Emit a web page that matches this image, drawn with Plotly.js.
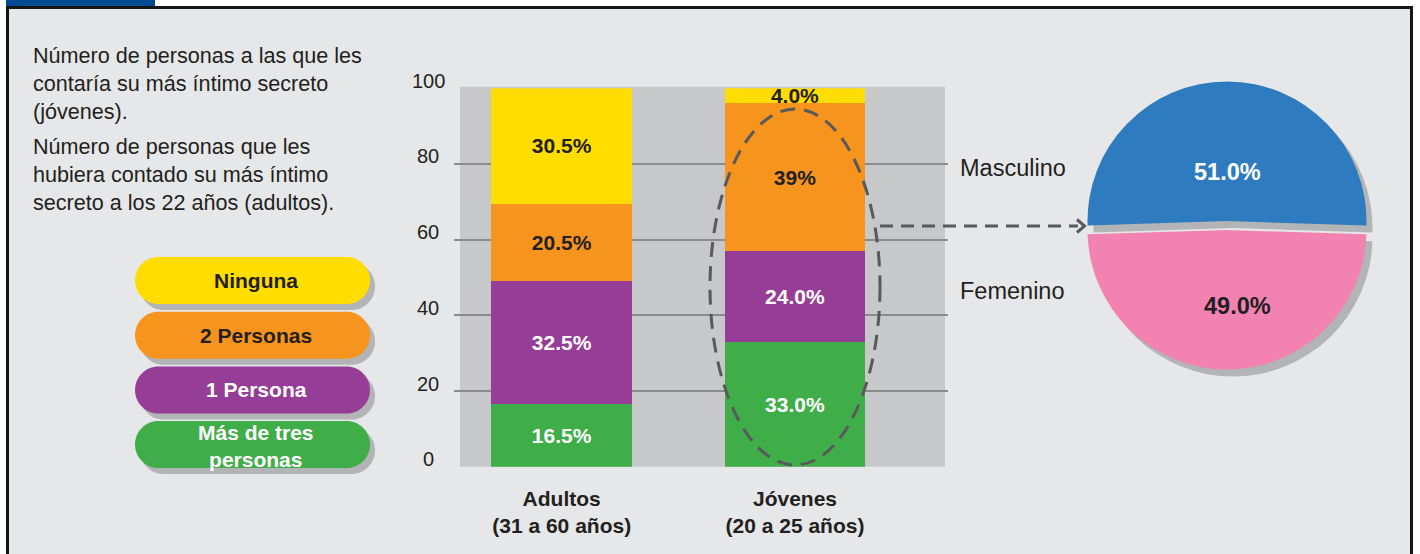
<!DOCTYPE html>
<html><head><meta charset="utf-8">
<script src="https://cdn.plot.ly/plotly-3.0.1.min.js"></script>
<style>html,body{margin:0;padding:0;background:#fff;} #chart{width:1420px;height:554px;}</style>
</head><body><div id="chart"></div>
<script>
// ---------- data ----------
const categories = ['Adultos<br>(31 a 60 años)', 'Jóvenes<br>(20 a 25 años)'];
const seriesNames = ['Más de tres<br>personas', '1 Persona', '2 Personas', 'Ninguna'];
const masDeTres = [16.5, 33.0];
const unaPersona = [32.5, 24.0];
const dosPersonas = [20.5, 39];
const ninguna = [30.5, 4.0];
const masDeTresLabels = ['16.5%', '33.0%'];
const unaPersonaLabels = ['32.5%', '24.0%'];
const dosPersonasLabels = ['20.5%', '39%'];
const ningunaLabels = ['30.5%', '4.0%'];
const yTickValues = [0, 20, 40, 60, 80, 100];
const yTickLabels = ['0', '20', '40', '60', '80', '100'];
const sexLabels = ['Masculino', 'Femenino'];
const sexValues = [51.0, 49.0];
const sexValueLabels = ['51.0%', '49.0%'];
const introTexts = [
  'Número de personas a las que les<br>contaría su más íntimo secreto<br>(jóvenes).',
  'Número de personas que les<br>hubiera contado su más íntimo<br>secreto a los 22 años (adultos).'
];

// ---------- styles ----------
const W = 1420, H = 554;
const px = x => x / W;
const py = y => 1 - y / H;
const FONT = 'Liberation Sans, Arial, Helvetica, sans-serif';
const DARK = '#231f20';
const seriesValues = [masDeTres, unaPersona, dosPersonas, ninguna];
const seriesLabels = [masDeTresLabels, unaPersonaLabels, dosPersonasLabels, ningunaLabels];
const seriesColors = ['#3fae49', '#963d97', '#f7941d', '#ffdd00'];
const seriesTextColors = ['#ffffff', '#ffffff', DARK, DARK];
const xs = categories.map((c, i) => i);

const traces = seriesValues.map((vals, i) => ({
  type: 'bar', x: xs, y: vals, name: seriesNames[i],
  width: 0.604,
  marker: {color: seriesColors[i], line: {width: 0}},
  text: seriesLabels[i], textposition: 'inside', insidetextanchor: 'middle',
  textangle: 0, constraintext: 'none',
  textfont: {family: FONT, size: 21, color: seriesTextColors[i], weight: 700},
  hoverinfo: 'skip', showlegend: false
}));

// pie geometry
const pieCx = 1227, pieCy = 225.5, pieR = 139.5, pull = 0.032;
const half = pieR * (1 + pull);
function pieDomain(dx, dy) {
  return {x: [px(pieCx - half + dx), px(pieCx + half + dx)],
          y: [py(pieCy + half + dy), py(pieCy - half + dy)]};
}
traces.push({
  type: 'pie', labels: sexLabels, values: sexValues, sort: false,
  direction: 'clockwise', rotation: -91.8, pull: [pull, pull],
  domain: pieDomain(6, 7), textinfo: 'none',
  marker: {colors: ['#b3b4b6', '#b3b4b6'], line: {width: 0}},
  hoverinfo: 'skip', showlegend: false
});
traces.push({
  type: 'pie', labels: sexLabels, values: sexValues, sort: false,
  direction: 'clockwise', rotation: -91.8, pull: [pull, pull],
  domain: pieDomain(0, 0), textinfo: 'none',
  marker: {colors: ['#2e7bbf', '#f283b1'], line: {width: 0}},
  hoverinfo: 'skip', showlegend: false
});

// ---------- shapes ----------
const shapes = [
  {type: 'rect', xref: 'paper', yref: 'paper', x0: px(7.5), x1: px(1411.5), y0: py(7.5), y1: py(620),
   fillcolor: '#e6e7e8', line: {color: '#151515', width: 3}, layer: 'below'},
  {type: 'rect', xref: 'paper', yref: 'paper', x0: px(6), x1: px(155), y0: py(6), y1: py(-4),
   fillcolor: '#004a93', line: {width: 0}, layer: 'below'},
  {type: 'rect', xref: 'paper', yref: 'paper', x0: px(460), x1: px(945), y0: py(466.7), y1: py(86.7),
   fillcolor: '#c7c8ca', line: {width: 0}, layer: 'below'}
];
function pillPath(x0, y0, x1, y1) {
  const R = (y1 - y0) / 2, k = 0.5523 * R;
  const P = (x, y) => px(x) + ',' + py(y);
  return 'M' + P(x0 + R, y0) + ' L' + P(x1 - R, y0) +
    ' C' + P(x1 - R + k, y0) + ' ' + P(x1, y0 + R - k) + ' ' + P(x1, y0 + R) +
    ' C' + P(x1, y1 - R + k) + ' ' + P(x1 - R + k, y1) + ' ' + P(x1 - R, y1) +
    ' L' + P(x0 + R, y1) +
    ' C' + P(x0 + R - k, y1) + ' ' + P(x0, y1 - R + k) + ' ' + P(x0, y1 - R) +
    ' C' + P(x0, y0 + R - k) + ' ' + P(x0 + R - k, y0) + ' ' + P(x0 + R, y0) + ' Z';
}
const annotations = [];
const legendOrder = [3, 2, 1, 0];
legendOrder.forEach((s, row) => {
  const top = 257 + row * 54.7, bot = top + 47;
  shapes.push({type: 'path', xref: 'paper', yref: 'paper', path: pillPath(140, top + 6, 375, bot + 6),
    fillcolor: '#b3b4b6', line: {width: 0}, layer: 'below'});
  shapes.push({type: 'path', xref: 'paper', yref: 'paper', path: pillPath(135, top, 370, bot),
    fillcolor: seriesColors[s], line: {width: 0}, layer: 'below'});
  const cy = (top + bot) / 2 + (seriesNames[s].includes('<br>') ? 1 : 0);
  annotations.push({
    xref: 'paper', yref: 'paper', x: px(256), y: py(cy), xanchor: 'center', yanchor: 'middle',
    text: seriesNames[s], showarrow: false,
    font: {family: FONT, size: 21, color: seriesTextColors[s], weight: 700}
  });
});
// dashed ellipse and arrow
shapes.push({type: 'circle', xref: 'paper', yref: 'paper', x0: px(710), x1: px(880), y0: py(465), y1: py(109),
  line: {color: '#58595b', width: 3, dash: '15px,9px'}, layer: 'above'});
shapes.push({type: 'line', xref: 'paper', yref: 'paper', x0: px(880), x1: px(1078), y0: py(226), y1: py(226),
  line: {color: '#58595b', width: 3, dash: '13px,8px'}, layer: 'above'});
shapes.push({type: 'path', xref: 'paper', yref: 'paper',
  path: 'M' + px(1077) + ',' + py(219.5) + ' L' + px(1084.5) + ',' + py(226) + ' L' + px(1077) + ',' + py(232.5),
  line: {color: '#58595b', width: 3}, layer: 'above'});

// y tick labels (centered, sitting on the grid lines)
yTickValues.forEach((v, i) => annotations.push({
  xref: 'paper', yref: 'y', x: px(428), y: v, xanchor: 'center', yanchor: 'middle', yshift: 7.5,
  text: yTickLabels[i], showarrow: false, font: {family: FONT, size: 20, color: DARK}
}));
// intro texts
[83.3, 174.3].forEach((cy, i) => annotations.push({
  xref: 'paper', yref: 'paper', x: px(31), y: py(cy), xanchor: 'left', yanchor: 'middle', align: 'left',
  text: introTexts[i], showarrow: false, font: {family: FONT, size: 21.6, color: DARK}
}));
// pie category labels
[168, 290.5].forEach((cy, i) => annotations.push({
  xref: 'paper', yref: 'paper', x: px(958), y: py(cy), xanchor: 'left', yanchor: 'middle',
  text: sexLabels[i], showarrow: false, font: {family: FONT, size: 23.5, color: DARK}
}));
// pie value labels
const pieTextOffsets = [[0.5, -53.2], [10.5, 80.2]];
const pieTextColors = ['#ffffff', DARK];
sexValueLabels.forEach((t, i) => annotations.push({
  xref: 'paper', yref: 'paper', x: px(pieCx + pieTextOffsets[i][0]), y: py(pieCy + pieTextOffsets[i][1]),
  xanchor: 'center', yanchor: 'middle', text: t, showarrow: false,
  font: {family: FONT, size: 23.5, color: pieTextColors[i], weight: 700}
}));

const layout = {
  width: W, height: H, margin: {l: 0, r: 0, t: 0, b: 0},
  paper_bgcolor: '#ffffff', plot_bgcolor: 'rgba(0,0,0,0)',
  barmode: 'stack', showlegend: false, bargap: 0,
  font: {family: FONT, color: DARK},
  xaxis: {domain: [px(454), px(948)], range: [-0.4616, 1.6558], tickvals: xs, ticktext: categories,
    showgrid: false, zeroline: false, showline: false, ticks: '', ticklabelstandoff: 17,
    tickfont: {family: FONT, size: 21, color: DARK, weight: 700}, fixedrange: true},
  yaxis: {domain: [py(466.7), py(88.2)], range: [0, 100], tickvals: [20, 40, 60, 80],
    showticklabels: false, showgrid: true, gridcolor: '#8a8b8d', gridwidth: 2,
    zeroline: false, showline: false, ticks: '', fixedrange: true},
  shapes: shapes, annotations: annotations
};
Plotly.newPlot('chart', traces, layout, {staticPlot: true, displayModeBar: false});
</script></body></html>
